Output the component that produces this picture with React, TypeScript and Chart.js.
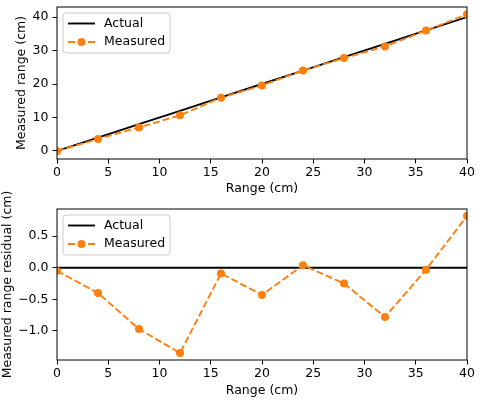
import React, { useEffect, useRef } from "react";
import { Chart, registerables } from "chart.js";

Chart.register(...registerables);

// ---- data ----
const rangeCm = [0, 4, 8, 12, 16, 20, 24, 28, 32, 36, 40];
const actualCm = [0, 4, 8, 12, 16, 20, 24, 28, 32, 36, 40];
const measuredCm = [-0.05, 3.6, 7.03, 10.65, 15.91, 19.57, 24.04, 27.75, 31.22, 35.97, 40.82];
const actualResidualCm = [0, 0, 0, 0, 0, 0, 0, 0, 0, 0, 0];
const measuredResidualCm = [-0.05, -0.4, -0.97, -1.35, -0.09, -0.43, 0.04, -0.25, -0.78, -0.03, 0.82];
const xTicks = [0, 5, 10, 15, 20, 25, 30, 35, 40];
const topYTicks = [0, 10, 20, 30, 40];
const bottomYTicks = [-1.0, -0.5, 0.0, 0.5];
const seriesLabels = ["Actual", "Measured"];

const FONT = "'DejaVu Sans', sans-serif";
const FS = 12.5;
const ORANGE = "#ff7f0e";

const framePlugin = {
  id: "mplFrame",
  afterDraw(chart: any) {
    const { ctx, chartArea: a } = chart;
    ctx.save();
    ctx.strokeStyle = "#000";
    ctx.lineWidth = 1;
    ctx.strokeRect(a.left, a.top, a.right - a.left, a.bottom - a.top);
    ctx.restore();
  },
};

const legendPlugin = {
  id: "mplLegend",
  afterDraw(chart: any) {
    const { ctx, chartArea: a } = chart;
    const x0 = a.left + 6;
    const y0 = a.top + 6;
    const w = 107;
    const h = 40;
    ctx.save();
    ctx.beginPath();
    const r = 3;
    ctx.moveTo(x0 + r, y0);
    ctx.lineTo(x0 + w - r, y0);
    ctx.arcTo(x0 + w, y0, x0 + w, y0 + r, r);
    ctx.lineTo(x0 + w, y0 + h - r);
    ctx.arcTo(x0 + w, y0 + h, x0 + w - r, y0 + h, r);
    ctx.lineTo(x0 + r, y0 + h);
    ctx.arcTo(x0, y0 + h, x0, y0 + h - r, r);
    ctx.lineTo(x0, y0 + r);
    ctx.arcTo(x0, y0, x0 + r, y0, r);
    ctx.closePath();
    ctx.fillStyle = "rgba(255,255,255,0.8)";
    ctx.fill();
    ctx.strokeStyle = "#cccccc";
    ctx.lineWidth = 1;
    ctx.stroke();
    const rows = [y0 + 10.5, y0 + 29];
    chart.data.datasets.forEach((ds: any, i: number) => {
      const y = rows[i];
      ctx.strokeStyle = ds.borderColor;
      ctx.lineWidth = ds.borderWidth;
      ctx.setLineDash(ds.borderDash || []);
      ctx.beginPath();
      ctx.moveTo(x0 + 5, y);
      ctx.lineTo(x0 + 32, y);
      ctx.stroke();
      ctx.setLineDash([]);
      if (ds.pointRadius > 0) {
        ctx.fillStyle = ds.backgroundColor;
        ctx.beginPath();
        ctx.arc(x0 + 18.5, y, ds.pointRadius, 0, Math.PI * 2);
        ctx.fill();
      }
      ctx.fillStyle = "#000";
      ctx.font = `${FS}px ${FONT}`;
      ctx.textBaseline = "middle";
      ctx.textAlign = "left";
      ctx.fillText(ds.label, x0 + 41, y);
    });
    ctx.restore();
  },
};

function makeConfig(
  actual: number[],
  measured: number[],
  yMin: number,
  yMax: number,
  yTicks: number[],
  yTitle: string,
  yTitlePad: number,
  padTop: number,
  xHeight: number,
  xTickPad: number,
  fmtY: (v: number) => string
): any {
  const pts = (arr: number[]) => rangeCm.map((x, i) => ({ x, y: arr[i] }));
  return {
    type: "line",
    data: {
      datasets: [
        {
          label: seriesLabels[0],
          data: pts(actual),
          borderColor: "#000",
          backgroundColor: "#000",
          borderWidth: 1.9,
          pointRadius: 0,
          order: 1,
          clip: 0,
        },
        {
          label: seriesLabels[1],
          data: pts(measured),
          borderColor: ORANGE,
          backgroundColor: ORANGE,
          borderWidth: 1.9,
          borderDash: [7, 3],
          pointRadius: 4,
          pointBorderWidth: 0,
          pointHoverRadius: 4,
          order: 0,
          clip: 0,
        },
      ],
    },
    options: {
      responsive: false,
      maintainAspectRatio: false,
      animation: false,
      events: [],
      layout: { padding: { top: padTop, right: 15, left: 0, bottom: 0 } },
      plugins: { legend: { display: false }, tooltip: { enabled: false } },
      scales: {
        x: {
          type: "linear",
          min: 0,
          max: 40,
          afterBuildTicks: (s: any) => {
            s.ticks = xTicks.map((v) => ({ value: v }));
          },
          afterFit: (s: any) => {
            s.height = xHeight;
            s.paddingLeft = 0;
            s.paddingRight = 0;
          },
          ticks: {
            color: "#000",
            font: { family: FONT, size: FS },
            padding: xTickPad,
            maxRotation: 0,
            autoSkip: false,
            callback: (v: any) => String(v),
          },
          grid: {
            display: true,
            drawOnChartArea: false,
            drawTicks: true,
            tickLength: 4.5,
            color: "#000",
            lineWidth: 1,
          },
          border: { display: false },
          title: {
            display: true,
            text: "Range (cm)",
            color: "#000",
            font: { family: FONT, size: FS },
            padding: { top: 0, bottom: 3.5 },
          },
        },
        y: {
          type: "linear",
          min: yMin,
          max: yMax,
          afterBuildTicks: (s: any) => {
            s.ticks = yTicks.map((v) => ({ value: v }));
          },
          afterFit: (s: any) => {
            s.width = 57;
            s.paddingTop = 0;
            s.paddingBottom = 0;
          },
          ticks: {
            color: "#000",
            font: { family: FONT, size: FS },
            padding: 4,
            autoSkip: false,
            callback: (v: any) => fmtY(Number(v)),
          },
          grid: {
            display: true,
            drawOnChartArea: false,
            drawTicks: true,
            tickLength: 4.5,
            color: "#000",
            lineWidth: 1,
          },
          border: { display: false },
          title: {
            display: true,
            text: yTitle,
            color: "#000",
            font: { family: FONT, size: FS },
            padding: { top: yTitlePad, bottom: 0 },
          },
        },
      },
    },
    plugins: [framePlugin, legendPlugin],
  };
}

function ChartCanvas({ config, width, height, top }: any) {
  const ref = useRef<HTMLCanvasElement | null>(null);
  useEffect(() => {
    if (!ref.current) return;
    const chart = new Chart(ref.current, config);
    return () => chart.destroy();
  }, []);
  return (
    <canvas
      ref={ref}
      width={width}
      height={height}
      style={{ position: "absolute", left: 0, top, width, height }}
    />
  );
}

export default function App() {
  const topCfg = makeConfig(
    actualCm,
    measuredCm,
    -2.4,
    43.0,
    topYTicks,
    "Measured range (cm)",
    14,
    7,
    41,
    1.5,
    (v) => String(v)
  );
  const botCfg = makeConfig(
    actualResidualCm,
    measuredResidualCm,
    -1.46,
    0.93,
    bottomYTicks,
    "Measured range residual (cm)",
    0,
    39,
    42,
    2,
    (v) => v.toFixed(1).replace("-", "\u2212")
  );
  return (
    <div
      style={{
        position: "fixed",
        left: 0,
        top: 0,
        width: 482,
        height: 402,
        background: "#fff",
        overflow: "hidden",
      }}
    >
      <ChartCanvas config={topCfg} width={482} height={200} top={0} />
      <ChartCanvas config={botCfg} width={482} height={232} top={170} />
    </div>
  );
}
